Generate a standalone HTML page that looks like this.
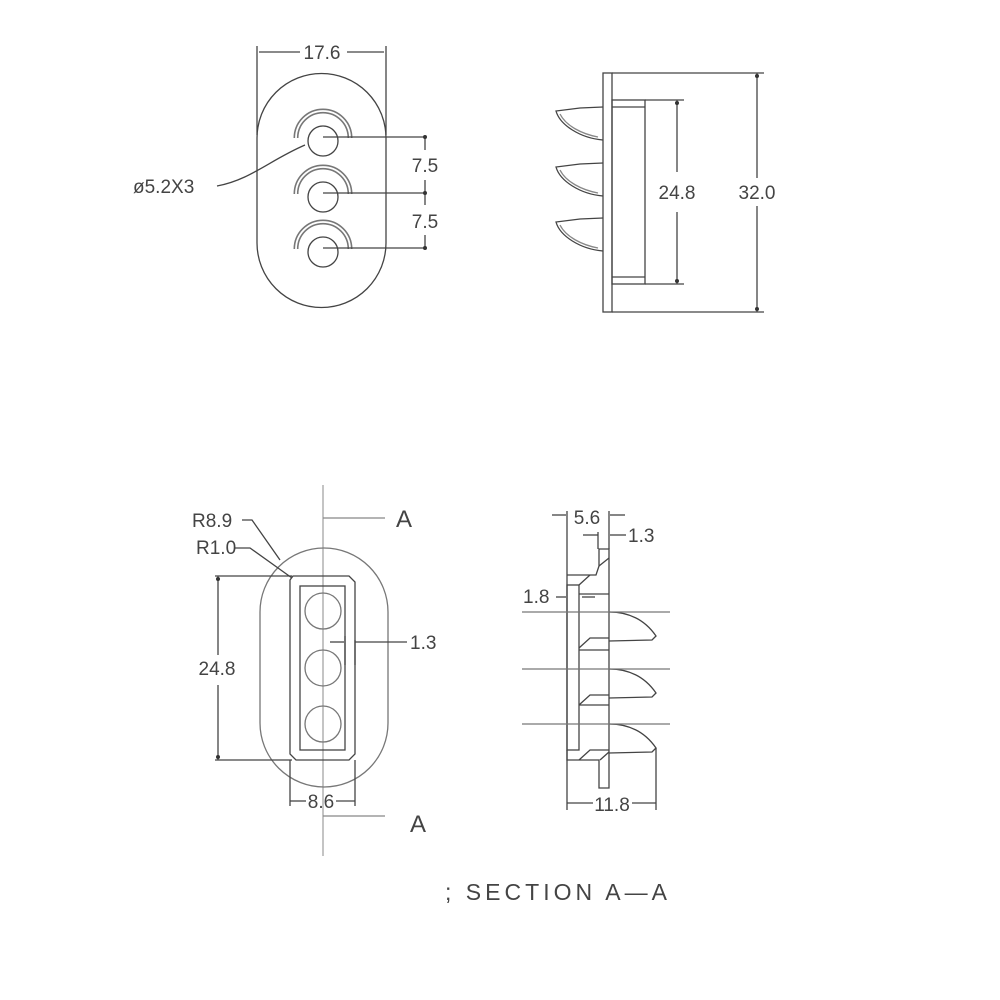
<!DOCTYPE html>
<html><head><style>body{margin:0;background:#fff}svg{display:block}text{font-family:"Liberation Sans",sans-serif;fill:#444}</style></head><body>
<svg width="1000" height="1000" viewBox="0 0 1000 1000" xmlns="http://www.w3.org/2000/svg">
<g fill="none" stroke="#444" stroke-width="1.3">
<!-- TOP LEFT -->
<path d="M257,138 A64.5,64.5 0 0 1 386,138 L386,243 A64.5,64.5 0 0 1 257,243 Z"/>
<line x1="257" y1="46" x2="257" y2="135"/><line x1="386" y1="46" x2="386" y2="135"/>
<line x1="259" y1="52" x2="300" y2="52"/><line x1="347" y1="52" x2="384" y2="52"/>
<g id="h1">
<circle cx="323" cy="141" r="15"/>
<path d="M296,138 A27,27 0 0 1 350,138" stroke-width="5" stroke="#777"/>
<path d="M296,138 A27,27 0 0 1 350,138" stroke="#fff" stroke-width="1.8"/>
</g>
<use href="#h1" y="56"/><use href="#h1" y="111"/>
<line x1="323" y1="137" x2="425" y2="137"/><line x1="323" y1="193" x2="425" y2="193"/><line x1="323" y1="248" x2="425" y2="248"/>
<line x1="425" y1="137" x2="425" y2="150"/><line x1="425" y1="180" x2="425" y2="205"/><line x1="425" y1="235" x2="425" y2="248"/>
<path d="M217,186 C250,180 270,160 305,145"/>
<!-- TOP RIGHT -->
<rect x="603" y="73" width="9" height="239"/>
<rect x="612" y="100" width="33" height="184"/>
<line x1="612" y1="107" x2="645" y2="107"/><line x1="612" y1="277" x2="645" y2="277"/>
<line x1="645" y1="100" x2="684" y2="100"/><line x1="645" y1="284" x2="684" y2="284"/>
<line x1="677" y1="100" x2="677" y2="172"/><line x1="677" y1="212" x2="677" y2="284"/>
<line x1="612" y1="73" x2="764" y2="73"/><line x1="612" y1="312" x2="764" y2="312"/>
<line x1="757" y1="73" x2="757" y2="178"/><line x1="757" y1="206" x2="757" y2="312"/>
<g id="f1"><path d="M603,107 L580,108 L556,111 C560,125 580,138 603,140"/><path d="M560,114 C566,126 582,134 598,137" stroke="#888"/></g>
<use href="#f1" y="56"/><use href="#f1" y="111"/>
<!-- BOTTOM LEFT -->
<line x1="323" y1="485" x2="323" y2="856" stroke="#888" stroke-width="1"/>
<path d="M260,612 A64,64 0 0 1 388,612 L388,723 A64,64 0 0 1 260,723 Z" stroke="#777"/>
<path d="M293,576 L349,576 L355,582 L355,754 L349,760 L296,760 L290,754 L290,580 Z"/>
<rect x="300" y="586" width="45" height="164"/>
<circle cx="323" cy="611" r="18" stroke="#777"/><circle cx="323" cy="668" r="18" stroke="#777"/><circle cx="323" cy="724" r="18" stroke="#777"/>
<line x1="215" y1="576" x2="292" y2="576"/><line x1="215" y1="760" x2="292" y2="760"/>
<line x1="218" y1="576" x2="218" y2="655"/><line x1="218" y1="685" x2="218" y2="760"/>
<line x1="290" y1="760" x2="290" y2="806"/><line x1="355" y1="760" x2="355" y2="806"/>
<line x1="290" y1="801" x2="306" y2="801"/><line x1="336" y1="801" x2="355" y2="801"/>
<line x1="323" y1="518" x2="385" y2="518" stroke="#888"/><line x1="323" y1="816" x2="385" y2="816" stroke="#888"/>
<line x1="330" y1="642" x2="344" y2="642"/><line x1="345" y1="636" x2="345" y2="665"/><line x1="355" y1="640" x2="355" y2="665"/>
<line x1="355" y1="642" x2="407" y2="642"/>
<path d="M242,520 L252,520 L280,560"/><path d="M235,548 L250,548 L292,578"/>
<!-- BOTTOM RIGHT -->
<line x1="567" y1="511" x2="567" y2="810"/><line x1="609" y1="511" x2="609" y2="549"/>
<line x1="552" y1="515" x2="566" y2="515"/><line x1="610" y1="515" x2="625" y2="515"/>
<line x1="583" y1="535" x2="598" y2="535"/><line x1="598" y1="532" x2="598" y2="549"/><line x1="610" y1="535" x2="626" y2="535"/>
<rect x="567" y="585" width="12" height="165"/>
<path d="M567,575 L596,575 L599,566 L599,549 L609,549 L609,755"/>
<path d="M599,566 L609,558"/><path d="M579,585 L590,575"/>
<path d="M567,750 L567,760 L599,760 L599,788 L609,788 L609,755"/>
<path d="M600,760 L609,752"/>
<line x1="579" y1="594" x2="609" y2="594"/>
<line x1="579" y1="650" x2="609" y2="650"/><line x1="579" y1="705" x2="609" y2="705"/>
<g id="f2"><path d="M609,612 C630,612 645,620 656,636 L652,640 L609,641"/><path d="M579,648 L590,638 L609,638"/></g>
<use href="#f2" y="57"/><use href="#f2" y="112"/>
<line x1="522" y1="612" x2="670" y2="612" stroke="#777"/><line x1="522" y1="669" x2="670" y2="669" stroke="#777"/><line x1="522" y1="724" x2="670" y2="724" stroke="#777"/>
<line x1="556" y1="597" x2="566" y2="597"/><line x1="582" y1="597" x2="595" y2="597"/>
<line x1="656" y1="748" x2="656" y2="810"/>
<line x1="567" y1="803" x2="593" y2="803"/><line x1="632" y1="803" x2="656" y2="803"/>
</g>
<g fill="#333">
<circle cx="425" cy="137" r="2"/><circle cx="425" cy="193" r="2"/><circle cx="425" cy="248" r="2"/>
<circle cx="677" cy="103" r="2"/><circle cx="677" cy="281" r="2"/><circle cx="757" cy="76" r="2"/><circle cx="757" cy="309" r="2"/>
<circle cx="218" cy="579" r="2"/><circle cx="218" cy="757" r="2"/>
</g>
<g font-size="19">
<text x="322" y="59" text-anchor="middle">17.6</text>
<text x="133" y="193">ø5.2X3</text>
<text x="425" y="172" text-anchor="middle">7.5</text>
<text x="425" y="228" text-anchor="middle">7.5</text>
<text x="677" y="199" text-anchor="middle">24.8</text>
<text x="757" y="199" text-anchor="middle">32.0</text>
<text x="192" y="527">R8.9</text>
<text x="196" y="554">R1.0</text>
<text x="217" y="675" text-anchor="middle">24.8</text>
<text x="410" y="649">1.3</text>
<text x="321" y="808" text-anchor="middle">8.6</text>
<text x="587" y="524" text-anchor="middle">5.6</text>
<text x="628" y="542">1.3</text>
<text x="523" y="603">1.8</text>
<text x="612" y="811" text-anchor="middle">11.8</text>
<text x="445" y="900" font-size="23" textLength="222" lengthAdjust="spacing">; SECTION A—A</text>
</g>
<text x="396" y="527" font-size="24">A</text>
<text x="410" y="832" font-size="24">A</text>
</svg>
</body></html>
